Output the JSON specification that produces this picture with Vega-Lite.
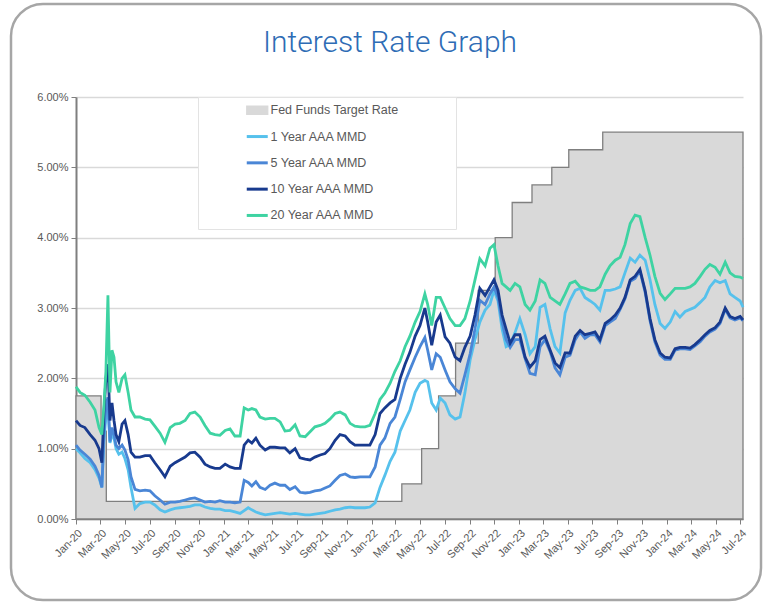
{
  "$schema": "https://vega.github.io/schema/vega-lite/v6.json",
  "width": 750,
  "height": 596,
  "autosize": "none",
  "padding": {"left": 11, "top": 4, "right": 3, "bottom": 3},
  "background": "white",
  "config": {
    "view": {"stroke": "#a6a6a6", "strokeWidth": 2.5, "cornerRadius": 32, "fill": "white"},
    "font": "Liberation Sans"
  },
  "title": {
    "text": "Interest Rate Graph",
    "font": "Roboto",
    "fontWeight": 300,
    "fontSize": 30,
    "color": "#2e6cb5",
    "anchor": "middle",
    "offset": -78,
    "baseline": "alphabetic",
    "dx": 4
  },
  "datasets": {
    "fed": [
      {"d": "2020-01-01", "r": 1.75},
      {"d": "2020-03-03", "r": 1.25},
      {"d": "2020-03-16", "r": 0.25},
      {"d": "2022-03-17", "r": 0.5},
      {"d": "2022-05-05", "r": 1.0},
      {"d": "2022-06-16", "r": 1.75},
      {"d": "2022-07-28", "r": 2.5},
      {"d": "2022-09-22", "r": 3.25},
      {"d": "2022-11-03", "r": 4.0},
      {"d": "2022-12-15", "r": 4.5},
      {"d": "2023-02-02", "r": 4.75},
      {"d": "2023-03-23", "r": 5.0},
      {"d": "2023-05-04", "r": 5.25},
      {"d": "2023-07-27", "r": 5.5},
      {"d": "2024-07-08", "r": 5.5}
    ],
    "rates": [
      {"d": "2020-01-01", "y1": 1.00, "y5": 1.05, "y10": 1.40, "y20": 1.88},
      {"d": "2020-01-11", "y1": 0.94, "y5": 0.98, "y10": 1.33, "y20": 1.80},
      {"d": "2020-01-23", "y1": 0.86, "y5": 0.92, "y10": 1.30, "y20": 1.76},
      {"d": "2020-02-05", "y1": 0.80, "y5": 0.85, "y10": 1.20, "y20": 1.66},
      {"d": "2020-02-17", "y1": 0.70, "y5": 0.75, "y10": 1.12, "y20": 1.55},
      {"d": "2020-02-27", "y1": 0.58, "y5": 0.62, "y10": 1.00, "y20": 1.30},
      {"d": "2020-03-05", "y1": 0.45, "y5": 0.45, "y10": 0.80, "y20": 1.20},
      {"d": "2020-03-10", "y1": 1.10, "y5": 1.20, "y10": 1.50, "y20": 1.60},
      {"d": "2020-03-15", "y1": 1.45, "y5": 1.60, "y10": 2.00, "y20": 2.10},
      {"d": "2020-03-20", "y1": 1.59, "y5": 1.73, "y10": 2.20, "y20": 3.18},
      {"d": "2020-03-25", "y1": 1.08, "y5": 1.10, "y10": 1.40, "y20": 1.80},
      {"d": "2020-03-30", "y1": 1.20, "y5": 1.30, "y10": 1.65, "y20": 2.40},
      {"d": "2020-04-04", "y1": 1.15, "y5": 1.20, "y10": 1.40, "y20": 2.30},
      {"d": "2020-04-09", "y1": 1.00, "y5": 1.05, "y10": 1.20, "y20": 1.95},
      {"d": "2020-04-16", "y1": 0.92, "y5": 1.00, "y10": 1.10, "y20": 1.80},
      {"d": "2020-04-24", "y1": 0.95, "y5": 1.05, "y10": 1.35, "y20": 2.00},
      {"d": "2020-05-01", "y1": 0.86, "y5": 0.98, "y10": 1.40, "y20": 2.05},
      {"d": "2020-05-09", "y1": 0.70, "y5": 0.84, "y10": 1.20, "y20": 1.80},
      {"d": "2020-05-16", "y1": 0.45, "y5": 0.60, "y10": 0.95, "y20": 1.55},
      {"d": "2020-05-26", "y1": 0.15, "y5": 0.42, "y10": 0.88, "y20": 1.45},
      {"d": "2020-06-07", "y1": 0.22, "y5": 0.40, "y10": 0.88, "y20": 1.45},
      {"d": "2020-06-20", "y1": 0.24, "y5": 0.41, "y10": 0.90, "y20": 1.42},
      {"d": "2020-07-02", "y1": 0.24, "y5": 0.40, "y10": 0.90, "y20": 1.41},
      {"d": "2020-07-14", "y1": 0.20, "y5": 0.33, "y10": 0.80, "y20": 1.32},
      {"d": "2020-07-27", "y1": 0.13, "y5": 0.27, "y10": 0.70, "y20": 1.22},
      {"d": "2020-08-08", "y1": 0.10, "y5": 0.21, "y10": 0.60, "y20": 1.09},
      {"d": "2020-08-21", "y1": 0.13, "y5": 0.24, "y10": 0.75, "y20": 1.30},
      {"d": "2020-09-02", "y1": 0.15, "y5": 0.24, "y10": 0.80, "y20": 1.35},
      {"d": "2020-09-14", "y1": 0.16, "y5": 0.25, "y10": 0.84, "y20": 1.36},
      {"d": "2020-09-27", "y1": 0.17, "y5": 0.27, "y10": 0.88, "y20": 1.40},
      {"d": "2020-10-09", "y1": 0.18, "y5": 0.29, "y10": 0.94, "y20": 1.50},
      {"d": "2020-10-21", "y1": 0.20, "y5": 0.30, "y10": 0.95, "y20": 1.52},
      {"d": "2020-11-03", "y1": 0.20, "y5": 0.27, "y10": 0.88, "y20": 1.45},
      {"d": "2020-11-15", "y1": 0.17, "y5": 0.24, "y10": 0.78, "y20": 1.33},
      {"d": "2020-11-28", "y1": 0.15, "y5": 0.25, "y10": 0.74, "y20": 1.22},
      {"d": "2020-12-10", "y1": 0.14, "y5": 0.24, "y10": 0.72, "y20": 1.20},
      {"d": "2020-12-22", "y1": 0.14, "y5": 0.26, "y10": 0.72, "y20": 1.19},
      {"d": "2021-01-04", "y1": 0.12, "y5": 0.24, "y10": 0.78, "y20": 1.26},
      {"d": "2021-01-16", "y1": 0.12, "y5": 0.24, "y10": 0.74, "y20": 1.28},
      {"d": "2021-01-28", "y1": 0.10, "y5": 0.23, "y10": 0.72, "y20": 1.18},
      {"d": "2021-02-10", "y1": 0.08, "y5": 0.24, "y10": 0.72, "y20": 1.18},
      {"d": "2021-02-20", "y1": 0.12, "y5": 0.55, "y10": 1.05, "y20": 1.58},
      {"d": "2021-03-02", "y1": 0.16, "y5": 0.52, "y10": 1.12, "y20": 1.55},
      {"d": "2021-03-11", "y1": 0.13, "y5": 0.47, "y10": 1.08, "y20": 1.57},
      {"d": "2021-03-21", "y1": 0.10, "y5": 0.53, "y10": 1.15, "y20": 1.55},
      {"d": "2021-03-31", "y1": 0.08, "y5": 0.45, "y10": 1.05, "y20": 1.45},
      {"d": "2021-04-13", "y1": 0.06, "y5": 0.42, "y10": 0.98, "y20": 1.42},
      {"d": "2021-04-25", "y1": 0.07, "y5": 0.48, "y10": 1.02, "y20": 1.43},
      {"d": "2021-05-07", "y1": 0.08, "y5": 0.51, "y10": 1.02, "y20": 1.43},
      {"d": "2021-05-20", "y1": 0.09, "y5": 0.48, "y10": 1.01, "y20": 1.38},
      {"d": "2021-06-01", "y1": 0.08, "y5": 0.48, "y10": 1.01, "y20": 1.25},
      {"d": "2021-06-13", "y1": 0.07, "y5": 0.42, "y10": 0.94, "y20": 1.26},
      {"d": "2021-06-26", "y1": 0.08, "y5": 0.46, "y10": 1.00, "y20": 1.34},
      {"d": "2021-07-08", "y1": 0.07, "y5": 0.38, "y10": 0.87, "y20": 1.18},
      {"d": "2021-07-21", "y1": 0.06, "y5": 0.37, "y10": 0.85, "y20": 1.17},
      {"d": "2021-08-02", "y1": 0.06, "y5": 0.38, "y10": 0.84, "y20": 1.24},
      {"d": "2021-08-14", "y1": 0.07, "y5": 0.40, "y10": 0.88, "y20": 1.31},
      {"d": "2021-08-27", "y1": 0.08, "y5": 0.41, "y10": 0.91, "y20": 1.33},
      {"d": "2021-09-08", "y1": 0.09, "y5": 0.44, "y10": 0.93, "y20": 1.36},
      {"d": "2021-09-20", "y1": 0.11, "y5": 0.47, "y10": 1.00, "y20": 1.42},
      {"d": "2021-10-03", "y1": 0.13, "y5": 0.55, "y10": 1.12, "y20": 1.50},
      {"d": "2021-10-15", "y1": 0.14, "y5": 0.62, "y10": 1.20, "y20": 1.52},
      {"d": "2021-10-28", "y1": 0.16, "y5": 0.64, "y10": 1.18, "y20": 1.48},
      {"d": "2021-11-09", "y1": 0.17, "y5": 0.60, "y10": 1.10, "y20": 1.36},
      {"d": "2021-11-21", "y1": 0.16, "y5": 0.59, "y10": 1.05, "y20": 1.32},
      {"d": "2021-12-04", "y1": 0.16, "y5": 0.60, "y10": 1.05, "y20": 1.31},
      {"d": "2021-12-16", "y1": 0.16, "y5": 0.60, "y10": 1.05, "y20": 1.31},
      {"d": "2021-12-28", "y1": 0.17, "y5": 0.60, "y10": 1.05, "y20": 1.33},
      {"d": "2022-01-10", "y1": 0.23, "y5": 0.74, "y10": 1.20, "y20": 1.50},
      {"d": "2022-01-22", "y1": 0.45, "y5": 1.05, "y10": 1.50, "y20": 1.70},
      {"d": "2022-02-03", "y1": 0.62, "y5": 1.15, "y10": 1.58, "y20": 1.79},
      {"d": "2022-02-16", "y1": 0.82, "y5": 1.36, "y10": 1.65, "y20": 1.93},
      {"d": "2022-02-28", "y1": 0.95, "y5": 1.45, "y10": 1.70, "y20": 2.10},
      {"d": "2022-03-13", "y1": 1.25, "y5": 1.70, "y10": 2.00, "y20": 2.25},
      {"d": "2022-03-25", "y1": 1.40, "y5": 1.95, "y10": 2.20, "y20": 2.45},
      {"d": "2022-04-06", "y1": 1.55, "y5": 2.12, "y10": 2.37, "y20": 2.60},
      {"d": "2022-04-19", "y1": 1.80, "y5": 2.30, "y10": 2.60, "y20": 2.80},
      {"d": "2022-05-01", "y1": 1.93, "y5": 2.45, "y10": 2.75, "y20": 2.95},
      {"d": "2022-05-13", "y1": 1.97, "y5": 2.58, "y10": 3.00, "y20": 3.20},
      {"d": "2022-05-20", "y1": 1.95, "y5": 2.40, "y10": 2.80, "y20": 3.05},
      {"d": "2022-05-30", "y1": 1.65, "y5": 2.12, "y10": 2.47, "y20": 2.75},
      {"d": "2022-06-10", "y1": 1.55, "y5": 2.35, "y10": 2.80, "y20": 3.15},
      {"d": "2022-06-20", "y1": 1.72, "y5": 2.30, "y10": 2.90, "y20": 3.15},
      {"d": "2022-07-02", "y1": 1.65, "y5": 2.12, "y10": 2.59, "y20": 3.00},
      {"d": "2022-07-14", "y1": 1.48, "y5": 1.95, "y10": 2.50, "y20": 2.85},
      {"d": "2022-07-27", "y1": 1.42, "y5": 1.85, "y10": 2.30, "y20": 2.75},
      {"d": "2022-08-08", "y1": 1.45, "y5": 1.79, "y10": 2.25, "y20": 2.75},
      {"d": "2022-08-20", "y1": 1.79, "y5": 2.05, "y10": 2.44, "y20": 2.85},
      {"d": "2022-09-02", "y1": 2.26, "y5": 2.35, "y10": 2.60, "y20": 3.10},
      {"d": "2022-09-14", "y1": 2.55, "y5": 2.70, "y10": 2.90, "y20": 3.40},
      {"d": "2022-09-26", "y1": 2.80, "y5": 3.11, "y10": 3.28, "y20": 3.70},
      {"d": "2022-10-09", "y1": 2.97, "y5": 3.05, "y10": 3.18, "y20": 3.60},
      {"d": "2022-10-21", "y1": 3.05, "y5": 3.20, "y10": 3.30, "y20": 3.85},
      {"d": "2022-10-31", "y1": 3.25, "y5": 3.30, "y10": 3.40, "y20": 3.90},
      {"d": "2022-11-10", "y1": 3.10, "y5": 3.15, "y10": 3.25, "y20": 3.60},
      {"d": "2022-11-20", "y1": 2.70, "y5": 2.80, "y10": 2.90, "y20": 3.35},
      {"d": "2022-11-30", "y1": 2.45, "y5": 2.55, "y10": 2.70, "y20": 3.30},
      {"d": "2022-12-10", "y1": 2.48, "y5": 2.44, "y10": 2.50, "y20": 3.25},
      {"d": "2022-12-22", "y1": 2.65, "y5": 2.55, "y10": 2.62, "y20": 3.35},
      {"d": "2023-01-03", "y1": 2.85, "y5": 2.55, "y10": 2.62, "y20": 3.30},
      {"d": "2023-01-16", "y1": 2.62, "y5": 2.28, "y10": 2.30, "y20": 3.05},
      {"d": "2023-01-28", "y1": 2.35, "y5": 2.07, "y10": 2.16, "y20": 2.97},
      {"d": "2023-02-10", "y1": 2.45, "y5": 2.05, "y10": 2.25, "y20": 3.10},
      {"d": "2023-02-22", "y1": 3.01, "y5": 2.45, "y10": 2.55, "y20": 3.40},
      {"d": "2023-03-06", "y1": 3.05, "y5": 2.55, "y10": 2.60, "y20": 3.35},
      {"d": "2023-03-19", "y1": 2.70, "y5": 2.38, "y10": 2.40, "y20": 3.15},
      {"d": "2023-03-31", "y1": 2.45, "y5": 2.15, "y10": 2.22, "y20": 3.10},
      {"d": "2023-04-12", "y1": 2.36, "y5": 2.05, "y10": 2.15, "y20": 3.05},
      {"d": "2023-04-25", "y1": 2.93, "y5": 2.30, "y10": 2.36, "y20": 3.20},
      {"d": "2023-05-07", "y1": 3.11, "y5": 2.33, "y10": 2.36, "y20": 3.35},
      {"d": "2023-05-20", "y1": 3.25, "y5": 2.55, "y10": 2.60, "y20": 3.38},
      {"d": "2023-06-01", "y1": 3.28, "y5": 2.66, "y10": 2.68, "y20": 3.30},
      {"d": "2023-06-13", "y1": 3.15, "y5": 2.57, "y10": 2.62, "y20": 3.28},
      {"d": "2023-06-26", "y1": 3.10, "y5": 2.62, "y10": 2.64, "y20": 3.25},
      {"d": "2023-07-08", "y1": 3.05, "y5": 2.62, "y10": 2.66, "y20": 3.25},
      {"d": "2023-07-20", "y1": 2.97, "y5": 2.52, "y10": 2.55, "y20": 3.30},
      {"d": "2023-08-02", "y1": 3.25, "y5": 2.75, "y10": 2.78, "y20": 3.48},
      {"d": "2023-08-14", "y1": 3.25, "y5": 2.80, "y10": 2.83, "y20": 3.60},
      {"d": "2023-08-27", "y1": 3.27, "y5": 2.85, "y10": 2.90, "y20": 3.68},
      {"d": "2023-09-08", "y1": 3.30, "y5": 2.98, "y10": 3.00, "y20": 3.72},
      {"d": "2023-09-20", "y1": 3.50, "y5": 3.13, "y10": 3.15, "y20": 3.90},
      {"d": "2023-10-03", "y1": 3.71, "y5": 3.38, "y10": 3.40, "y20": 4.20},
      {"d": "2023-10-15", "y1": 3.65, "y5": 3.42, "y10": 3.45, "y20": 4.32},
      {"d": "2023-10-27", "y1": 3.75, "y5": 3.53, "y10": 3.55, "y20": 4.30},
      {"d": "2023-11-09", "y1": 3.68, "y5": 3.22, "y10": 3.25, "y20": 4.00},
      {"d": "2023-11-21", "y1": 3.40, "y5": 2.82, "y10": 2.85, "y20": 3.75},
      {"d": "2023-12-03", "y1": 3.05, "y5": 2.52, "y10": 2.55, "y20": 3.45},
      {"d": "2023-12-16", "y1": 2.78, "y5": 2.33, "y10": 2.36, "y20": 3.21},
      {"d": "2023-12-28", "y1": 2.71, "y5": 2.27, "y10": 2.30, "y20": 3.12},
      {"d": "2024-01-10", "y1": 2.80, "y5": 2.27, "y10": 2.29, "y20": 3.20},
      {"d": "2024-01-22", "y1": 2.95, "y5": 2.40, "y10": 2.42, "y20": 3.28},
      {"d": "2024-02-03", "y1": 2.87, "y5": 2.42, "y10": 2.44, "y20": 3.28},
      {"d": "2024-02-16", "y1": 2.95, "y5": 2.42, "y10": 2.44, "y20": 3.28},
      {"d": "2024-02-28", "y1": 2.98, "y5": 2.41, "y10": 2.43, "y20": 3.30},
      {"d": "2024-03-11", "y1": 3.01, "y5": 2.46, "y10": 2.48, "y20": 3.35},
      {"d": "2024-03-24", "y1": 3.08, "y5": 2.52, "y10": 2.55, "y20": 3.45},
      {"d": "2024-04-05", "y1": 3.15, "y5": 2.60, "y10": 2.62, "y20": 3.55},
      {"d": "2024-04-17", "y1": 3.30, "y5": 2.66, "y10": 2.68, "y20": 3.62},
      {"d": "2024-04-30", "y1": 3.39, "y5": 2.70, "y10": 2.72, "y20": 3.58},
      {"d": "2024-05-12", "y1": 3.36, "y5": 2.78, "y10": 2.80, "y20": 3.48},
      {"d": "2024-05-25", "y1": 3.39, "y5": 2.98, "y10": 3.00, "y20": 3.65},
      {"d": "2024-06-06", "y1": 3.20, "y5": 2.86, "y10": 2.88, "y20": 3.50},
      {"d": "2024-06-18", "y1": 3.15, "y5": 2.83, "y10": 2.85, "y20": 3.45},
      {"d": "2024-07-01", "y1": 3.10, "y5": 2.86, "y10": 2.88, "y20": 3.44},
      {"d": "2024-07-08", "y1": 3.01, "y5": 2.82, "y10": 2.83, "y20": 3.42}
    ]
  },
  "layer": [
    {
      "data": {"name": "fed"},
      "mark": {"type": "area", "interpolate": "step-after", "stroke": "#7f7f7f", "strokeWidth": 1.3, "opacity": 1},
      "encoding": {
        "x": {
          "field": "d",
          "type": "temporal",
          "scale": {
            "type": "utc",
            "domain": [
              {"year": 2020, "month": 1, "date": 1, "utc": true},
              {"year": 2024, "month": 7, "date": 8, "utc": true}
            ],
            "range": [65, 732]
          },
          "axis": {
            "title": null,
            "offset": -81,
            "format": "%b-%y",
            "tickCount": {"interval": "month", "step": 2},
            "labelAngle": -45,
            "labelFontSize": 11,
            "labelColor": "#595959",
            "labelOverlap": false,
            "labelFlush": false,
            "labelBound": false,
            "labelPadding": 3,
            "domainColor": "#7f7f7f",
            "domainWidth": 1.5,
            "tickColor": "#7f7f7f",
            "tickSize": 5,
            "grid": false
          }
        },
        "y": {
          "field": "r",
          "type": "quantitative",
          "scale": {"domain": [0, 6], "range": [515, 93], "nice": false},
          "axis": {
            "title": null,
            "offset": -65,
            "values": [0, 1, 2, 3, 4, 5, 6],
            "labelExpr": "format(datum.value, '.2f') + '%'",
            "labelFontSize": 11,
            "labelColor": "#595959",
            "labelPadding": 3,
            "domainColor": "#7f7f7f",
            "domainWidth": 2,
            "tickColor": "#7f7f7f",
            "tickSize": 5,
            "grid": true,
            "gridColor": "#d9d9d9",
            "gridWidth": 1.5
          }
        },
        "color": {
          "datum": "fed",
          "type": "nominal",
          "scale": {
            "domain": ["fed", "y1", "y5", "y10", "y20"],
            "range": ["#d9d9d9", "#56c1ec", "#4a86d6", "#183a8e", "#3ed3a2"]
          },
          "legend": {
            "orient": "none",
            "legendX": 187,
            "legendY": 93,
            "title": null,
            "fillColor": "white",
            "strokeColor": "#e3e3e3",
            "padding": 7,
            "rowPadding": 13.3,
            "symbolSize": 441,
            "symbolOffset": 46,
            "labelOffset": 7,
            "labelFontSize": 12.5,
            "labelColor": "#595959",
            "labelLimit": 400,
            "labelExpr": "(datum.value == 'fed' ? 'Fed Funds Target Rate' : datum.value == 'y1' ? '1 Year AAA MMD' : datum.value == 'y5' ? '5 Year AAA MMD' : datum.value == 'y10' ? '10 Year AAA MMD' : '20 Year AAA MMD') + '\u2800\u2800\u2800\u2800\u2800'",
            "encode": {
              "symbols": {
                "update": {
                  "shape": {"signal": "datum.value == 'fed' ? 'M-1,-0.38H1V0.38H-1Z' : 'stroke'"},
                  "fill": {"signal": "datum.value == 'fed' ? '#d9d9d9' : 'transparent'"},
                  "stroke": {"signal": "datum.value == 'fed' ? '#7f7f7f' : scale('color', datum.value)"},
                  "strokeWidth": {"signal": "datum.value == 'fed' ? 1.3 : 3"},
                  "opacity": {"value": 1}
                }
              }
            }
          }
        }
      }
    },
    {
      "data": {"name": "rates"},
      "transform": [{"fold": ["y1", "y5", "y10", "y20"], "as": ["s", "v"]}],
      "mark": {"type": "line", "strokeWidth": 2.8},
      "encoding": {
        "x": {"field": "d", "type": "temporal"},
        "y": {"field": "v", "type": "quantitative"},
        "color": {
          "field": "s",
          "type": "nominal",
          "legend": {
            "orient": "none",
            "legendX": 187,
            "legendY": 93,
            "title": null,
            "fillColor": "white",
            "strokeColor": "#e3e3e3",
            "padding": 7,
            "rowPadding": 13.3,
            "symbolSize": 441,
            "symbolOffset": 46,
            "labelOffset": 7,
            "labelFontSize": 12.5,
            "labelColor": "#595959",
            "labelLimit": 400,
            "labelExpr": "(datum.value == 'fed' ? 'Fed Funds Target Rate' : datum.value == 'y1' ? '1 Year AAA MMD' : datum.value == 'y5' ? '5 Year AAA MMD' : datum.value == 'y10' ? '10 Year AAA MMD' : '20 Year AAA MMD') + '\u2800\u2800\u2800\u2800\u2800'",
            "encode": {
              "symbols": {
                "update": {
                  "shape": {"signal": "datum.value == 'fed' ? 'M-1,-0.38H1V0.38H-1Z' : 'stroke'"},
                  "fill": {"signal": "datum.value == 'fed' ? '#d9d9d9' : 'transparent'"},
                  "stroke": {"signal": "datum.value == 'fed' ? '#7f7f7f' : scale('color', datum.value)"},
                  "strokeWidth": {"signal": "datum.value == 'fed' ? 1.3 : 3"},
                  "opacity": {"value": 1}
                }
              }
            }
          }
        }
      }
    }
  ]
}
